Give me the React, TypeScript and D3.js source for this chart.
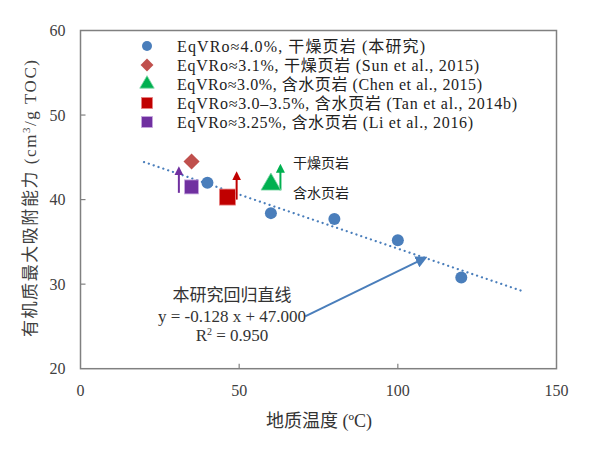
import React from 'react';
import * as d3 from 'd3';

// blue circles: this study
const temps = [40, 60, 80, 100, 120];
const capacity = [42.0, 38.4, 37.7, 35.2, 30.8];

// literature points [temp, capacity]
const sunPt: [number, number] = [35, 44.5];
const chenPt: [number, number] = [60, 41.8];
const tanPt: [number, number] = [46.3, 40.3];
const liPt: [number, number] = [35, 41.5];

// arrows: [temp, from, to, colour]
const upArrows: [number, number, number, string][] = [
  [31, 40.8, 44.0, '#7030a0'],
  [49.2, 40.0, 43.4, '#c00000'],
  [63, 41.1, 44.3, '#00b050'],
];

const slope = -0.128;
const intercept = 47.0;
const fitRange = [20, 140];

const xTicks = [0, 50, 100, 150];
const yTicks = [20, 30, 40, 50, 60];

const legendLabels = [
  'EqVRo≈4.0%, 干燥页岩  (本研究)',
  'EqVRo≈3.1%, 干燥页岩  (Sun et al., 2015)',
  'EqVRo≈3.0%, 含水页岩 (Chen et al., 2015)',
  'EqVRo≈3.0–3.5%, 含水页岩 (Tan et al., 2014b)',
  'EqVRo≈3.25%, 含水页岩 (Li et al., 2016)',
];
const legendWidths = [248, 302, 305, 340, 296];

const font = '"Liberation Serif", "Times New Roman", "Noto Sans CJK SC", serif';

const App: React.FC = () => {
  const x = d3.scaleLinear([0, 150], [80.5, 556.5]);
  const y = d3.scaleLinear([20, 60], [368.7, 30.5]);
  const axisColor = '#808080';

  const marker = (kind: string, cx: number, cy: number, s: number) => {
    if (kind === 'circle') return <circle cx={cx} cy={cy} r={s * 0.5} fill="#4a7ebb" />;
    if (kind === 'diamond')
      return <rect x={cx - s * 0.38} y={cy - s * 0.38} width={s * 0.76} height={s * 0.76} fill="#c0504d" transform={`rotate(45 ${cx} ${cy})`} />;
    if (kind === 'triangle') {
      const p = d3.symbol(d3.symbolTriangle, s * s * 0.75)()!;
      return <path d={p} transform={`translate(${cx},${cy})`} fill="#00b050" stroke="#7fd8a8" strokeWidth={0.8} />;
    }
    if (kind === 'red') return <rect x={cx - s / 2} y={cy - s / 2} width={s} height={s} fill="#c00000" stroke="#e88080" strokeWidth={0.8} />;
    return <rect x={cx - s / 2} y={cy - s / 2} width={s} height={s} fill="#7030a0" stroke="#c8a8e0" strokeWidth={0.8} />;
  };

  const kinds = ['circle', 'diamond', 'triangle', 'red', 'purple'];

  const arrowFrom: [number, number] = [70.8, 26.2];
  const arrowTo: [number, number] = [108, 33.0];

  return (
    <svg width={600} height={453} style={{ position: 'absolute', left: 0, top: 0, background: '#fff' }} fontFamily={font}>
      <defs>
        {upArrows.map((a, i) => (
          <marker key={i} id={`ah${i}`} viewBox="0 0 10 10" refX="5" refY="5" markerWidth="4.5" markerHeight="4.5" orient="auto">
            <path d="M0,0 L10,5 L0,10 z" fill={a[3]} />
          </marker>
        ))}
        <marker id="ahBlue" viewBox="0 0 10 10" refX="6" refY="5" markerWidth="6" markerHeight="6" orient="auto">
          <path d="M0,0 L10,5 L0,10 z" fill="#4a7ebb" />
        </marker>
      </defs>

      {/* frame */}
      <rect x={x(0)} y={y(60)} width={x(150) - x(0)} height={y(20) - y(60)} fill="none" stroke={axisColor} strokeWidth={1.5} />
      {xTicks.slice(1, -1).map((t) => (
        <line key={t} x1={x(t)} x2={x(t)} y1={y(20)} y2={y(20) - 5} stroke={axisColor} strokeWidth={1.2} />
      ))}
      {yTicks.slice(1, -1).map((t) => (
        <line key={t} x1={x(0)} x2={x(0) + 5} y1={y(t)} y2={y(t)} stroke={axisColor} strokeWidth={1.2} />
      ))}
      {xTicks.map((t) => (
        <text key={t} x={x(t)} y={y(20) + 27} textAnchor="middle" fontSize={16} fill="#404040">{t}</text>
      ))}
      {yTicks.map((t) => (
        <text key={t} x={x(0) - 15} y={y(t) + 5.5} textAnchor="end" fontSize={16} fill="#404040">{t}</text>
      ))}

      <text x={319} y={427} textAnchor="middle" fontSize={18} fill="#333">地质温度 (ºC)</text>
      <text transform="translate(36,337) rotate(-90)" fontSize={17} fill="#404040" textLength={277} lengthAdjust="spacing">
        有机质最大吸附能力 (cm<tspan dy={-6} fontSize={11}>3</tspan><tspan dy={6}>/g TOC)</tspan>
      </text>

      {/* regression */}
      <line x1={x(fitRange[0])} y1={y(slope * fitRange[0] + intercept)} x2={x(fitRange[1])} y2={y(slope * fitRange[1] + intercept)}
        stroke="#4a7ebb" strokeWidth={2.2} strokeDasharray="0.1 5" strokeLinecap="round" />

      {/* up arrows */}
      {upArrows.map((a, i) => (
        <line key={i} x1={x(a[0])} x2={x(a[0])} y1={y(a[1])} y2={y(a[2]) + 5} stroke={a[3]} strokeWidth={2} markerEnd={`url(#ah${i})`} />
      ))}

      {marker('diamond', x(sunPt[0]), y(sunPt[1]), 15)}
      {marker('purple', x(liPt[0]), y(liPt[1]), 14)}
      {marker('red', x(tanPt[0]), y(tanPt[1]), 16)}
      {marker('triangle', x(chenPt[0]), y(chenPt[1]), 15)}
      {temps.map((t, i) => (
        <React.Fragment key={t}>{marker('circle', x(t), y(capacity[i]), 12)}</React.Fragment>
      ))}

      <text x={x(67)} y={y(44.3) + 5} fontSize={14} fontFamily='"Noto Sans CJK SC", sans-serif' fill="#222">干燥页岩</text>
      <text x={x(67)} y={y(40.8) + 5} fontSize={14} fontFamily='"Noto Sans CJK SC", sans-serif' fill="#222">含水页岩</text>

      {/* annotation */}
      <line x1={x(arrowFrom[0])} y1={y(arrowFrom[1])} x2={x(arrowTo[0])} y2={y(arrowTo[1])} stroke="#4a7ebb" strokeWidth={2} markerEnd="url(#ahBlue)" />
      <text x={232} y={301} textAnchor="middle" fontSize={17} fill="#333">本研究回归直线</text>
      <text x={232} y={322} textAnchor="middle" fontSize={17} fill="#333">y = -0.128 x + 47.000</text>
      <text x={232} y={341} textAnchor="middle" fontSize={17} fill="#333">
        R<tspan dy={-6} fontSize={10}>2</tspan><tspan dy={6}> = 0.950</tspan>
      </text>

      {/* legend */}
      {legendLabels.map((l, i) => {
        const ly = 46 + i * 19;
        return (
          <g key={l}>
            {marker(kinds[i], 147, ly, i === 0 ? 10 : i === 1 ? 12 : 11)}
            <text x={177} y={ly + 5.5} fontSize={16} fill="#222" textLength={legendWidths[i]} lengthAdjust="spacing">{l}</text>
          </g>
        );
      })}
    </svg>
  );
};

export default App;
